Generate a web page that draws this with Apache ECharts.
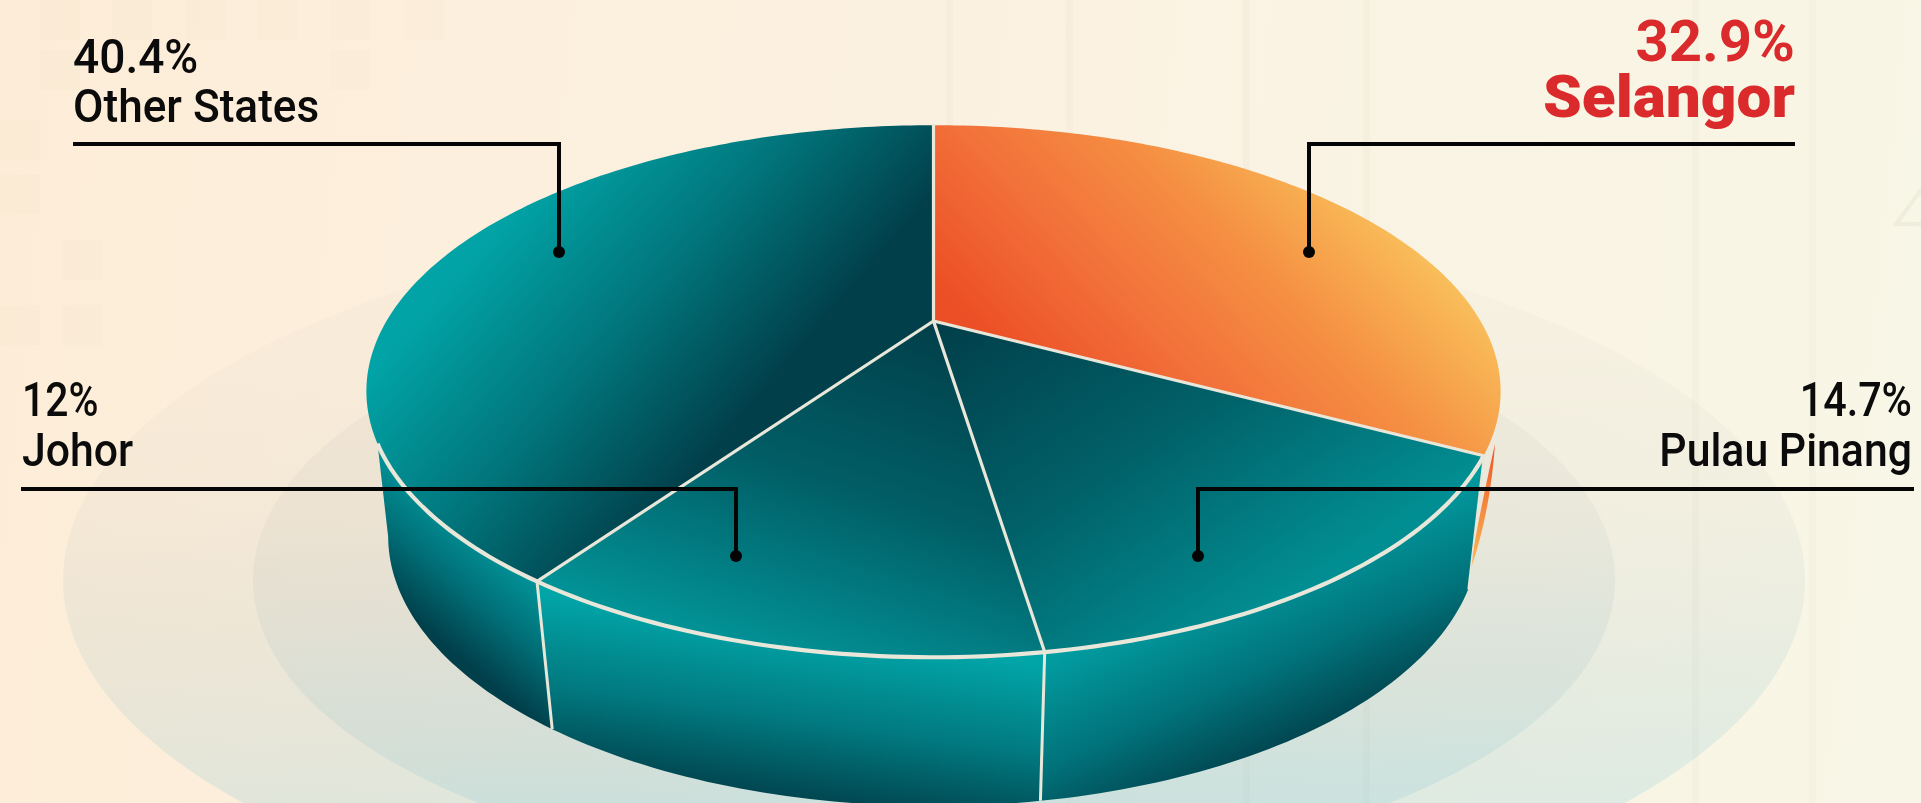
<!DOCTYPE html>
<html><head><meta charset="utf-8">
<style>html,body{margin:0;padding:0;width:100%;height:100%;overflow:hidden}#c{width:1921px;height:803px}</style>
<script src="https://cdn.jsdelivr.net/npm/echarts@6/dist/echarts.min.js"></script>
</head><body><div id="c"></div>
<script>
// ---- data ----
const categories = ['Selangor', 'Pulau Pinang', 'Johor', 'Other States'];
const shares = [32.9, 14.7, 12, 40.4];
const shareText = ['32.9%', '14.7%', '12%', '40.4%'];

// ---- projection of the pie disc (perspective) ----
const CX = 933.5, K = -0.264;
const TOP = {a: 547, b: 247.5, y0: 321};
const BASE = {a: 526, b: 251, y0: 465};
const rad = d => d * Math.PI / 180;
function proj(theta, p) {
  const x = Math.sin(rad(theta)), y = -Math.cos(rad(theta)), w = 1 + K * y;
  return [CX + p.a * x / w, p.y0 + p.b * y / w];
}
function arc(from, to, p) {
  const n = Math.max(2, Math.ceil(Math.abs(to - from))), pts = [];
  for (let i = 0; i <= n; i++) pts.push(proj(from + (to - from) * i / n, p));
  return pts;
}
const total = shares.reduce((a, b) => a + b, 0);
const startAngle = [], endAngle = [];
shares.reduce((acc, v, i) => { startAngle[i] = acc / total * 360; endAngle[i] = (acc + v) / total * 360; return acc + v; }, 0);

// ---- styles ----
const LINE = '#e8e7d9';
const lin = (x, y, x2, y2, stops) => ({type: 'linear', global: true, x, y, x2, y2,
  colorStops: stops.map(s => ({offset: s[0], color: s[1]}))});
const topFill = [
  lin(958, 310, 1231, 48, [[0, '#ec4f25'], [0.33, '#f2703a'], [0.65, '#f58f42'], [1, '#f9bf5b']]),
  lin(940, 325, 1171, 674, [[0, '#013f4a'], [0.5, '#016068'], [1, '#018e92']]),
  lin(933, 321, 821, 677, [[0, '#013f4a'], [0.5, '#015e66'], [1, '#029498']]),
  lin(417, 320, 653, 523, [[0, '#01a3a6'], [0.5, '#01767c'], [1, '#013f4a']])
];
const wallFill = [
  null,
  lin(1265, 553, 1345, 731, [[0, '#01a0a4'], [0.55, '#01727a'], [1, '#013f4a']]),
  lin(800, 630, 775, 805, [[0, '#01a5a8'], [0.5, '#017a80'], [1, '#013f4a']]),
  lin(455, 510, 384, 594, [[0, '#01959a'], [0.5, '#016e76'], [1, '#013f4a']])
];
const WALL_RIGHT_BASE = 116, WALL_RIGHT_END = 118.4, WALL_LEFT_TOP = 244, WALL_LEFT_BASE = 254.6;
const notes = [
  {x: 1795, align: 'right', valY: 46, nameY: 102, sizeV: 58, sizeN: 60, weight: 900, vw: 700, color: '#da2a2b', sxV: 1, sxN: 1.035, lineY: 144, from: 1795, to: 1309, dotY: 252},
  {x: 1912, align: 'right', valY: 404, nameY: 454, sizeV: 48, sizeN: 46, weight: 500, vw: 500, color: '#0b0b0b', sxV: 0.86, sxN: 0.93, lineY: 489, from: 1914, to: 1198, dotY: 556},
  {x: 22, align: 'left', valY: 404, nameY: 454, sizeV: 48, sizeN: 46, weight: 500, vw: 500, color: '#0b0b0b', sxV: 0.85, sxN: 0.93, lineY: 489, from: 21, to: 736, dotY: 556},
  {x: 73, align: 'left', valY: 61, nameY: 110, sizeV: 48, sizeN: 46, weight: 500, vw: 500, color: '#0b0b0b', sxV: 0.96, sxN: 0.96, lineY: 144, from: 73, to: 559, dotY: 252}
];

function renderWall(params) {
  const i = params.dataIndex, kids = [];
  if (i === 0) {
    // thin sliver of the orange side seen past the right edge of the teal wall
    const a = [1495, 444], ctrlOuter = [1490, 515], ctrlInner = [1480, 510], b = [1469, 574], pts = [];
    const q = (p0, c, p1, t) => [(1-t)*(1-t)*p0[0]+2*t*(1-t)*c[0]+t*t*p1[0], (1-t)*(1-t)*p0[1]+2*t*(1-t)*c[1]+t*t*p1[1]];
    for (let t = 0; t <= 1.001; t += 0.05) pts.push(q(a, ctrlOuter, b, t));
    for (let t = 1; t >= -0.001; t -= 0.05) pts.push(q(a, ctrlInner, b, t));
    kids.push({type: 'polygon', shape: {points: pts}, style: {fill: lin(0, 444, 0, 574, [[0, '#ec5428'], [0.5, '#f58a3c'], [1, '#fbbf5b']])}});
  } else {
    const s = startAngle[i], e = Math.min(endAngle[i], WALL_LEFT_TOP);
    const topPts = arc(s, e, TOP);
    const basePts = arc(i === 3 ? WALL_LEFT_BASE : e, i === 1 ? WALL_RIGHT_BASE : s, BASE);
    kids.push({type: 'polygon', shape: {points: topPts.concat(basePts)}, style: {fill: wallFill[i]}});
  }
  return {type: 'group', children: kids};
}
function renderTop(params) {
  const i = params.dataIndex, s = startAngle[i], e = endAngle[i], apex = [CX, TOP.y0];
  return {type: 'polygon', shape: {points: [apex].concat(arc(s, e, TOP))}, style: {fill: topFill[i]}};
}
function renderEdges(params) {
  const i = params.dataIndex, apex = [CX, TOP.y0], p = proj(startAngle[i], TOP), kids = [];
  // vertical divider on the side wall at the end of the slice
  if (i === 1 || i === 2) {
    const e = endAngle[i];
    kids.push({type: 'line', shape: {x1: proj(e, TOP)[0], y1: proj(e, TOP)[1], x2: proj(e, BASE)[0], y2: proj(e, BASE)[1]},
      style: {stroke: LINE, lineWidth: 3}});
  }
  if (i === 1) {
    const r = proj(startAngle[i], TOP), b = proj(WALL_RIGHT_BASE, BASE);
    kids.push({type: 'line', shape: {x1: r[0], y1: r[1], x2: b[0], y2: b[1]}, style: {stroke: LINE, lineWidth: 1.6}});
  }
  kids.push({type: 'line', shape: {x1: apex[0], y1: apex[1], x2: p[0], y2: p[1]}, style: {stroke: LINE, lineWidth: 3.2, lineCap: 'round'}});
  const a = Math.max(startAngle[i], WALL_RIGHT_END), b = Math.min(endAngle[i], WALL_LEFT_TOP);
  if (b > a) kids.push({type: 'polyline', shape: {points: arc(a, b, TOP)}, style: {stroke: LINE, lineWidth: 4.2, fill: 'none'}});
  return {type: 'group', children: kids};
}
function renderNote(params) {
  const i = params.dataIndex, n = notes[i];
  const txt = (t, y, size, weight, sx) => ({type: 'text', x: n.x, y, scaleX: sx, style: {text: t, x: 0, y: 0, align: n.align, verticalAlign: 'middle',
    font: weight + ' ' + size + 'px Roboto', fill: n.color}});
  return {type: 'group', children: [
    txt(shareText[i], n.valY, n.sizeV, n.vw, n.sxV),
    txt(categories[i], n.nameY, n.sizeN, n.weight, n.sxN),
    {type: 'polyline', shape: {points: [[n.from, n.lineY], [n.to, n.lineY], [n.to, n.dotY]]}, style: {stroke: '#050505', lineWidth: 4, fill: 'none', lineJoin: 'miter'}},
    {type: 'circle', shape: {cx: n.to, cy: n.dotY, r: 6}, style: {fill: '#050505'}}
  ]};
}

// ---- faint decoration behind the chart ----
const deco = [];
const tint = (t, m, b) => ({type: 'linear', global: true, x: 0, y: 216, x2: 0, y2: 803,
  colorStops: [{offset: 0, color: t}, {offset: 0.5, color: m}, {offset: 1, color: b}]});
deco.push({type: 'ellipse', z: 1, silent: true, shape: {cx: 934, cy: 580, rx: 871, ry: 366}, style: {fill: tint('rgba(110,110,110,0.012)', 'rgba(100,130,140,0.05)', 'rgba(40,170,210,0.13)')}});
deco.push({type: 'ellipse', z: 2, silent: true, shape: {cx: 934, cy: 580, rx: 681, ry: 300}, style: {fill: tint('rgba(90,90,110,0.03)', 'rgba(90,110,125,0.05)', 'rgba(30,160,200,0.10)')}});
[946, 1066, 1243, 1363, 1692, 1809].forEach(x => deco.push({type: 'rect', z: 0, silent: true, shape: {x, y: 0, width: 7, height: 803}, style: {fill: 'rgba(130,125,100,0.03)'}}));
[[40, 0], [112, 0], [186, 0], [258, 0], [330, 0], [404, 0], [40, 50], [330, 50], [0, 120], [0, 175], [62, 240], [0, 305], [62, 305]].forEach(s =>
  deco.push({type: 'rect', z: 0, silent: true, shape: {x: s[0], y: s[1], width: 40, height: 40}, style: {fill: 'rgba(130,100,60,0.016)'}}));
deco.push({type: 'polyline', z: 0, silent: true, shape: {points: [[1921, 190], [1896, 224], [1921, 224]]}, style: {stroke: 'rgba(130,125,100,0.07)', lineWidth: 4, fill: 'none'}});

const chart = echarts.init(document.getElementById('c'), null, {renderer: 'canvas', width: 1921, height: 803});
const seriesData = shares.map(v => [v]);
const layer = (name, fn, z) => ({type: 'custom', name, coordinateSystem: 'none', renderItem: fn, data: seriesData, z, silent: true, animation: false, clip: false});
chart.setOption({
  animation: false,
  backgroundColor: {type: 'linear', x: 0, y: 0, x2: 1, y2: 0.25, colorStops: [
    {offset: 0, color: '#fdedd8'}, {offset: 0.5, color: '#fbf1e1'}, {offset: 1, color: '#f8f6e6'}]},
  graphic: {elements: deco},
  series: [
    layer('walls', renderWall, 3),
    layer('tops', renderTop, 4),
    layer('edges', renderEdges, 5),
    layer('notes', renderNote, 6)
  ]
});
</script></body></html>
